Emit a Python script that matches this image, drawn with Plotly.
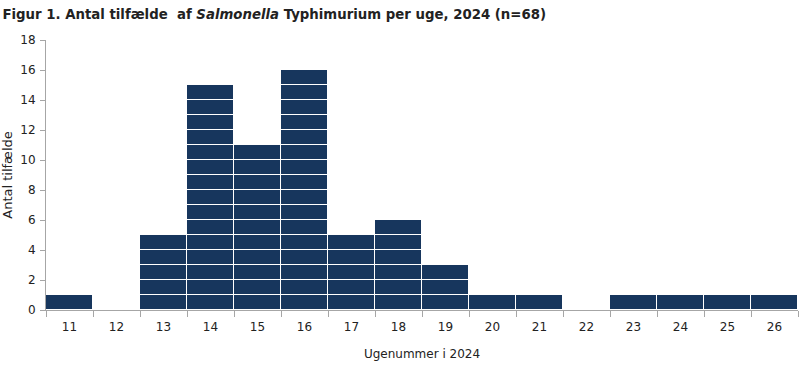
import plotly.graph_objects as go

weeks = ["11", "12", "13", "14", "15", "16", "17", "18", "19", "20", "21", "22", "23", "24", "25", "26"]
cases = [1, 0, 5, 15, 11, 16, 5, 6, 3, 1, 1, 0, 1, 1, 1, 1]

bar_color = "#17365D"
axis_color = "#A6A6A6"
font_family = "'DejaVu Sans', sans-serif"

fig = go.Figure()
for level in range(max(cases)):
    ys = [1 if v > level else None for v in cases]
    fig.add_trace(go.Bar(
        x=weeks, y=ys,
        marker=dict(color=bar_color, line=dict(color="white", width=1.5)),
        showlegend=False, hoverinfo="skip",
    ))

fig.update_layout(
    barmode="stack", bargap=0,
    width=800, height=368,
    margin=dict(l=46, r=2, t=40, b=58),
    plot_bgcolor="white", paper_bgcolor="white",
    font=dict(family=font_family, size=12, color="#222222"),
    title=dict(
        text="<b>Figur 1. Antal tilfælde  af <i>Salmonella</i> Typhimurium per uge, 2024 (n=68)</b>",
        x=0.003, xanchor="left", y=1 - 14 / 368, yanchor="middle",
        font=dict(size=13.3, color="#222222", family=font_family),
    ),
    xaxis=dict(
        type="category", range=[-0.5, 15.5], automargin=False,
        showline=True, linecolor=axis_color, linewidth=1,
        ticks="outside", tickson="boundaries", ticklen=6, tickcolor=axis_color,
        ticklabelstandoff=6,
        showgrid=False,
        title=dict(text="Ugenummer i 2024", font=dict(size=12), standoff=16),
        tickfont=dict(size=12),
    ),
    yaxis=dict(
        range=[0, 18], dtick=2, automargin=False,
        showline=True, linecolor=axis_color, linewidth=1,
        ticks="outside", ticklen=5, tickcolor=axis_color,
        ticklabelstandoff=2,
        showgrid=False, zeroline=False,
        title=dict(text="Antal tilfælde", font=dict(size=13), standoff=6),
        tickfont=dict(size=12),
    ),
)

fig.write_html("out.html", config={"displayModeBar": False},
               post_script="document.body.style.margin='0';")
